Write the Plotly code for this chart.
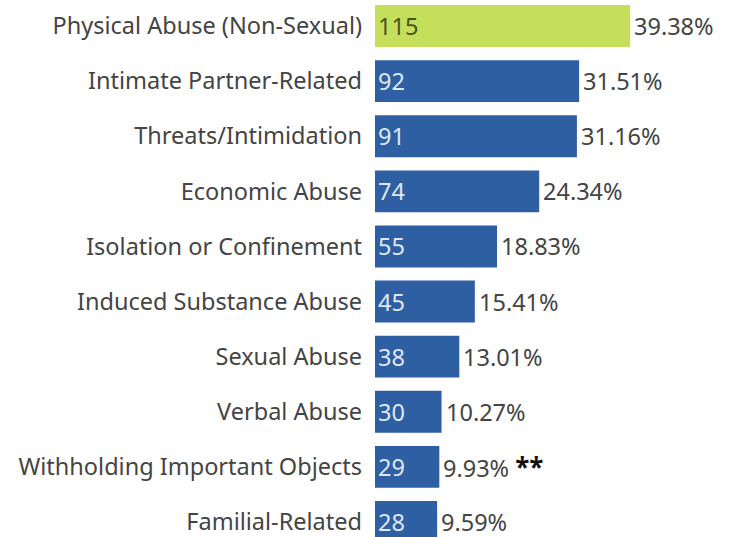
import plotly.graph_objects as go

##### Data #####

categories = [
    "Physical Abuse (Non-Sexual)",
    "Intimate Partner-Related",
    "Threats/Intimidation",
    "Economic Abuse",
    "Isolation or Confinement",
    "Induced Substance Abuse",
    "Sexual Abuse",
    "Verbal Abuse",
    "Withholding Important Objects",
    "Familial-Related",
]
counts = [115, 92, 91, 74, 55, 45, 38, 30, 29, 28]
percents = ["39.38%", "31.51%", "31.16%", "24.34%", "18.83%",
            "15.41%", "13.01%", "10.27%", "9.93%", "9.59%"]
footnotes = ["", "", "", "", "", "", "", "", "**", ""]

GREEN = "#c6df5b"
BLUE = "#2e5fa3"
FONT = "Noto Sans"
SIZE = 23.5

bar_colors = [GREEN] + [BLUE] * (len(counts) - 1)
text_colors = ["#4a5420"] + ["#dfe7f2"] * (len(counts) - 1)

##### Figure #####

fig = go.Figure(
    go.Bar(
        x=counts,
        y=categories,
        orientation="h",
        marker=dict(color=bar_colors, line=dict(width=0)),
        text=[str(c) for c in counts],
        textposition="inside",
        insidetextanchor="start",
        textfont=dict(family=FONT, size=SIZE, color=text_colors),
        hoverinfo="skip",
    )
)

# percentage labels to the right of each bar
for cat, val, pct, note in zip(categories, counts, percents, footnotes):
    label = pct
    if note:
        label += " <span style='color:#111111;font-size:26px'><b>" + note + "</b></span>"
    fig.add_annotation(
        x=val, y=cat, text=label, showarrow=False,
        xanchor="left", yanchor="middle", xshift=2,
        font=dict(family=FONT, size=SIZE, color="#444444"),
    )

fig.update_layout(
    width=730,
    height=537,
    margin=dict(l=375, r=0, t=0, b=0, autoexpand=False),
    paper_bgcolor="white",
    plot_bgcolor="white",
    bargap=0.24,
    showlegend=False,
    uniformtext=dict(mode=False),
)
fig.update_xaxes(range=[0, 160], visible=False, automargin=False)
fig.update_yaxes(
    range=[9.272, -0.472],
    automargin=False,
    showgrid=False,
    zeroline=False,
    showline=False,
    ticks="",
    ticklabelstandoff=12,
    tickfont=dict(family=FONT, size=SIZE, color="#444444"),
)

# drop the default page margin so the figure sits at the window corner
fig.write_html(
    "out.html",
    config={"displayModeBar": False},
    post_script="document.body.style.margin='0';",
)
